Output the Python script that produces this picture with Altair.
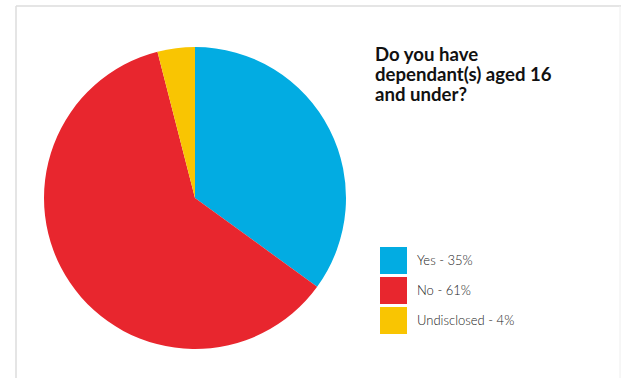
import altair as alt
import pandas as pd

categories = ["Yes", "No", "Undisclosed"]
values = [35, 61, 4]
colors = ["#02ACE2", "#E8262E", "#F9C502"]
title_lines = ["Do you have", "dependant(s) aged 16", "and under?"]

labels = [f"{c} - {v}%" for c, v in zip(categories, values)]
df = pd.DataFrame({"label": labels, "value": values, "order": list(range(len(values)))})

pie = alt.Chart(df).mark_arc(radius=151, strokeWidth=0).encode(
    theta=alt.Theta("value:Q", stack=True),
    order=alt.Order("order:Q"),
    color=alt.Color(
        "label:N",
        scale=alt.Scale(domain=labels, range=colors),
        sort=labels,
        legend=alt.Legend(
            title=None,
            orient="none",
            legendX=380,
            legendY=247,
            symbolType="square",
            symbolSize=729,
            symbolStrokeWidth=0,
            symbolOpacity=1,
            labelFontSize=13,
            labelFont="Lato",
            labelFontWeight=300,
            labelColor="#222222",
            labelOffset=10,
            rowPadding=3,
            padding=0,
        ),
    ),
    x=alt.value(195),
    y=alt.value(198),
)

title = alt.Chart(pd.DataFrame({"a": [0]})).mark_text(
    text=title_lines,
    align="left",
    baseline="alphabetic",
    font="Lato",
    fontSize=18.6,
    fontWeight="bold",
    lineHeight=20,
    color="#111111",
).encode(x=alt.value(375), y=alt.value(61))

frame_top = alt.Chart(pd.DataFrame({"a": [0]})).mark_rule(color="#DDDDDD", strokeWidth=1.5).encode(
    x=alt.value(16), x2=alt.value(621), y=alt.value(6)
)
frame_left = alt.Chart(pd.DataFrame({"a": [0]})).mark_rule(color="#DDDDDD", strokeWidth=1.5).encode(
    x=alt.value(16), y=alt.value(6), y2=alt.value(378)
)
frame_right = alt.Chart(pd.DataFrame({"a": [0]})).mark_rule(color="#EEEEEE", strokeWidth=1).encode(
    x=alt.value(620), y=alt.value(6), y2=alt.value(378)
)

chart = alt.layer(frame_top, frame_left, frame_right, pie, title).properties(
    width=621,
    height=378,
    autosize=alt.AutoSizeParams(type="none"),
    padding=0,
    background="white",
).configure_view(strokeWidth=0)

chart.save("out.html", embed_options={"renderer": "svg", "actions": False})
